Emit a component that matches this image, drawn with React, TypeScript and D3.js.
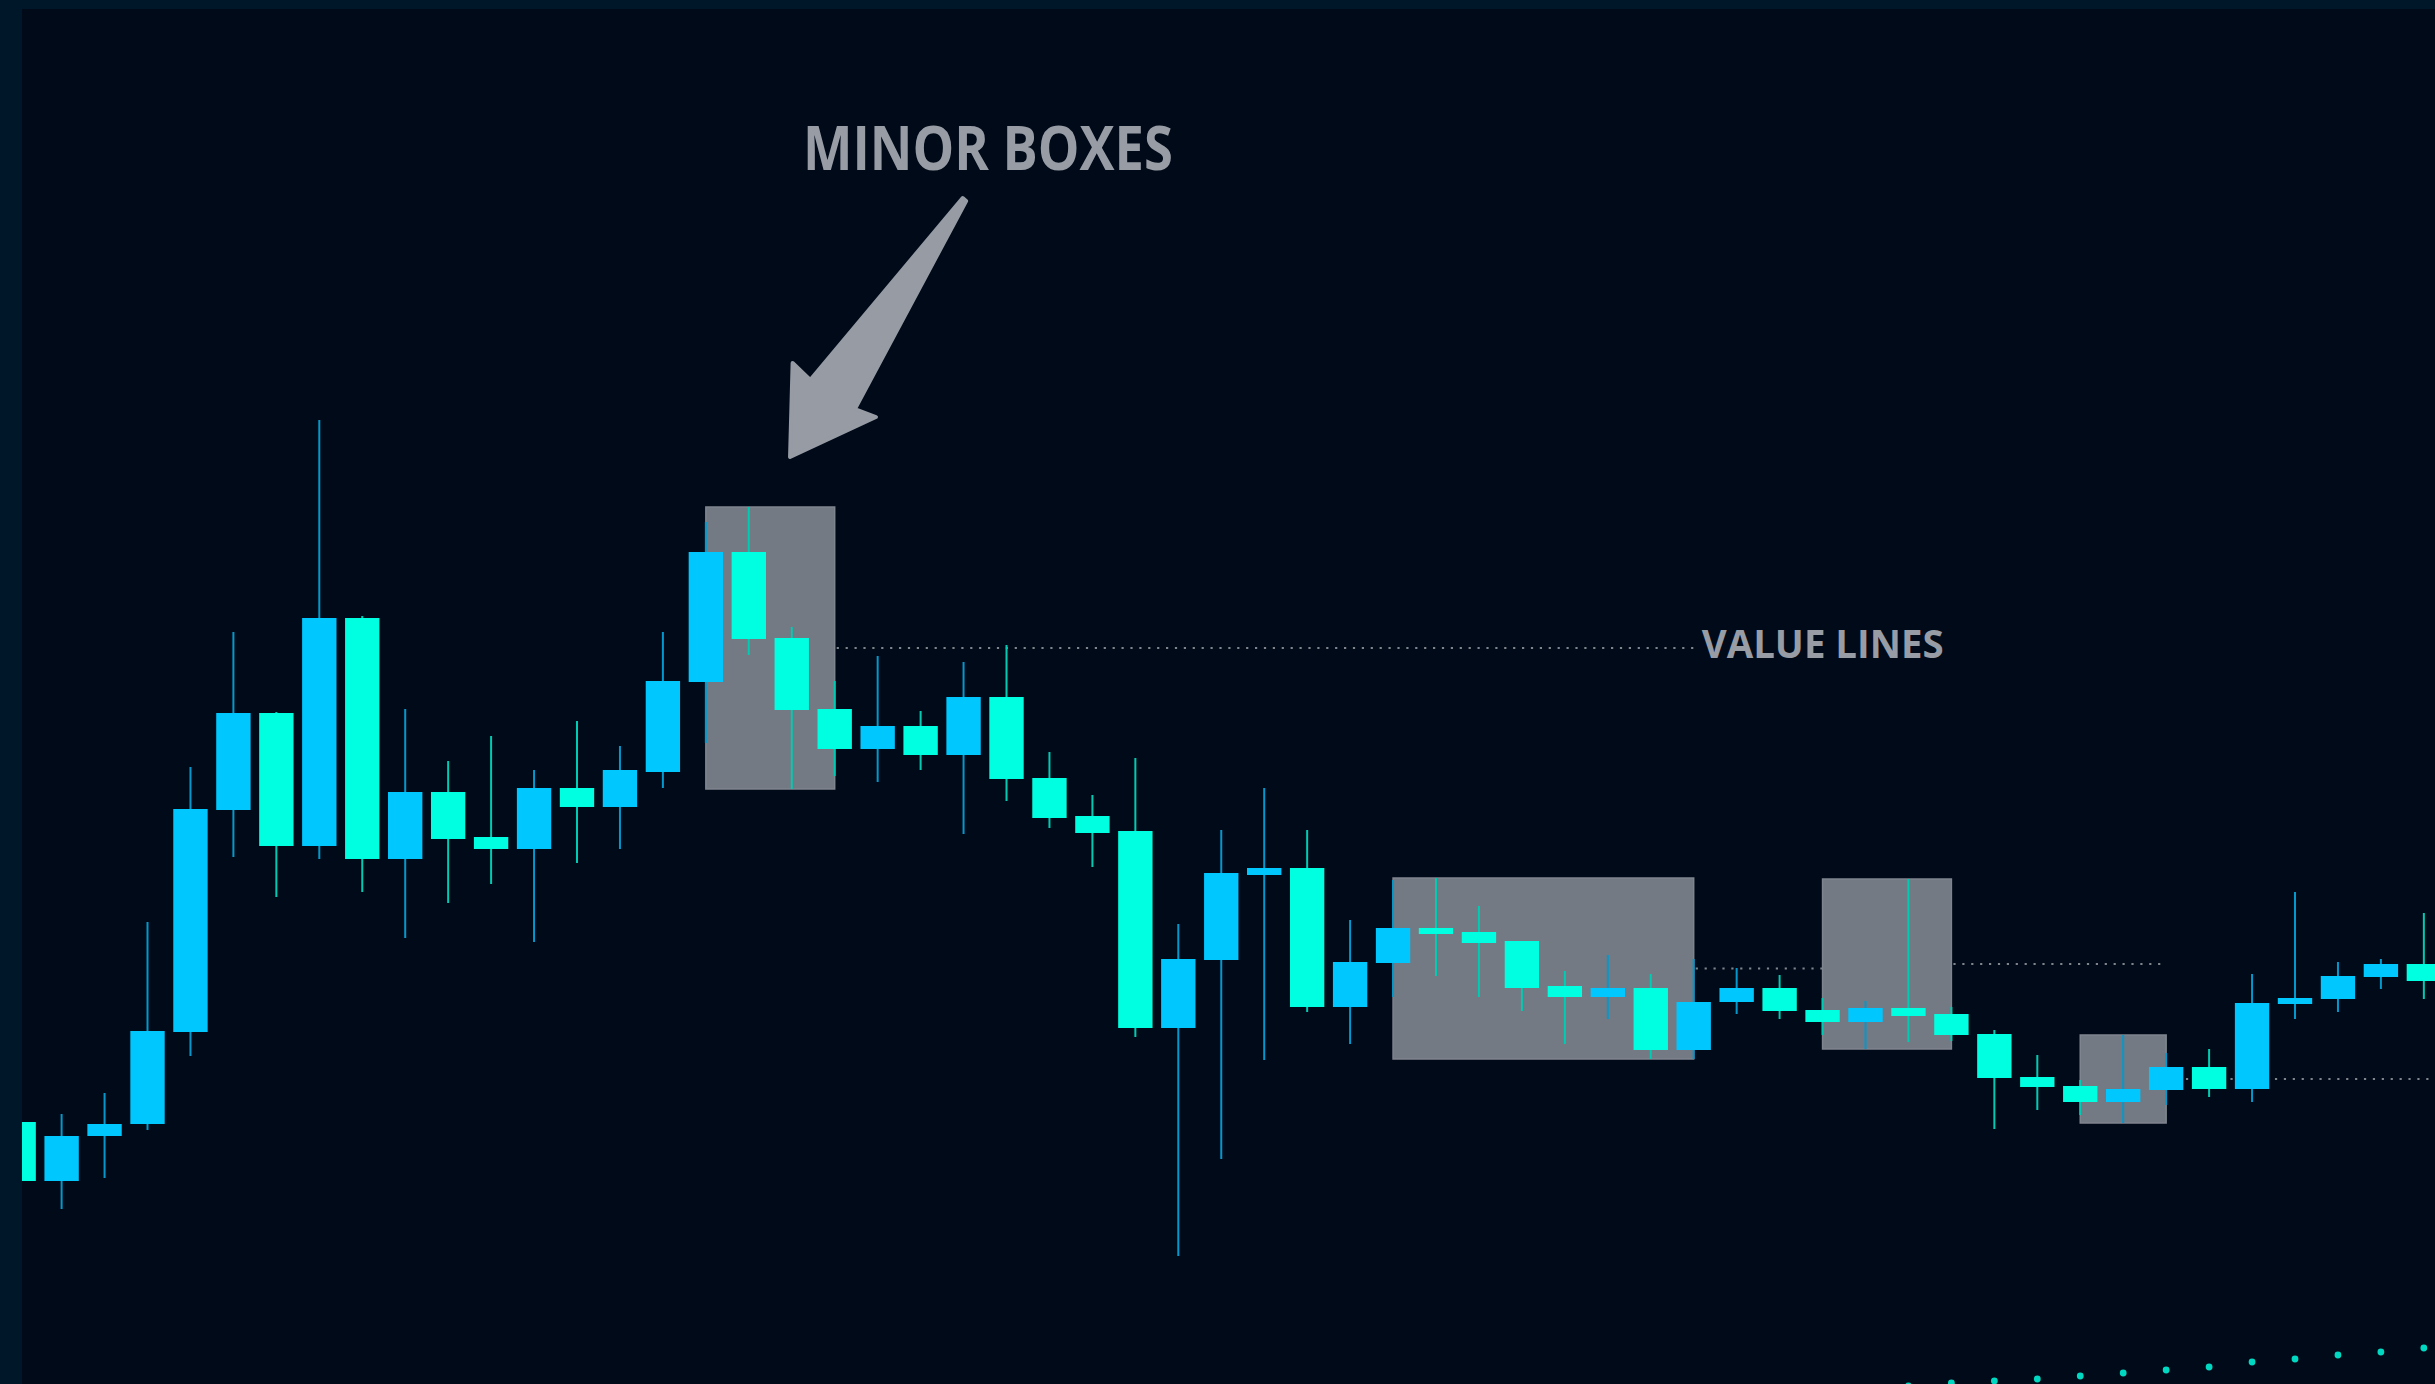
import React from "react";
import * as d3 from "d3";

const W = 2435;
const H = 1384;

// ---- data (price units) ----
const candles = d3.range(57);
const open = [26.2, 20.3, 24.8, 26.0, 35.2, 57.4, 67.1, 53.8, 76.6, 52.5, 59.2, 54.7, 53.5, 59.6, 57.7, 61.2, 70.2, 83.2, 74.6, 67.5, 63.5, 65.8, 62.9, 68.7, 60.6, 56.8, 55.3, 35.6, 42.4, 50.9, 51.6, 37.7, 42.1, 45.6, 45.2, 44.3, 39.8, 38.7, 39.6, 33.4, 38.2, 39.6, 37.4, 36.2, 37.6, 37.0, 35.0, 30.7, 29.8, 28.2, 29.4, 31.7, 29.5, 38.0, 38.5, 40.7, 42.0];
const close = [20.3, 24.8, 26.0, 35.3, 57.5, 67.1, 53.8, 76.6, 52.5, 59.2, 54.5, 53.5, 59.6, 57.7, 61.4, 70.3, 83.2, 74.5, 67.4, 63.5, 65.8, 62.9, 68.7, 60.5, 56.6, 55.1, 35.6, 42.5, 51.1, 51.6, 37.7, 42.2, 45.6, 45.0, 44.1, 39.6, 38.7, 39.6, 33.4, 38.2, 39.6, 37.3, 36.2, 37.6, 36.8, 34.9, 30.6, 29.7, 28.2, 29.5, 31.7, 29.5, 38.1, 38.6, 40.8, 42.0, 40.3];
const high = [26.2, 27.0, 29.1, 46.2, 61.7, 75.2, 67.2, 96.4, 76.8, 67.5, 62.3, 64.8, 61.4, 66.3, 63.8, 75.2, 86.2, 87.7, 75.7, 70.3, 72.8, 67.3, 72.2, 73.9, 63.2, 58.9, 62.6, 46.0, 55.4, 59.6, 55.4, 46.4, 50.4, 50.6, 47.8, 44.3, 41.3, 42.9, 41.0, 42.5, 41.6, 40.9, 38.6, 38.3, 50.5, 37.7, 35.4, 32.9, 30.4, 34.9, 33.1, 33.5, 41.0, 49.2, 42.2, 42.5, 47.1];
const low = [20.3, 17.5, 20.6, 25.4, 32.8, 52.7, 48.7, 52.5, 49.2, 44.6, 48.1, 50.0, 44.2, 52.1, 53.5, 59.6, 64.1, 72.9, 59.5, 60.8, 60.2, 61.4, 55.0, 58.3, 55.6, 51.7, 34.7, 12.8, 22.5, 32.4, 37.2, 34.0, 38.7, 40.8, 38.7, 37.3, 34.0, 36.5, 32.5, 32.5, 37.0, 36.5, 34.9, 33.5, 34.2, 34.3, 25.5, 27.4, 26.9, 26.1, 27.9, 28.7, 28.2, 36.5, 37.2, 39.5, 38.5];

// minor boxes: [first candle, last candle]
const boxStart = [16, 32, 42, 48];
const boxEnd = [19, 39, 45, 50];
// value line (box midpoint) runs from box end to this candle
const valueLineEnd = [39, 42, 50, 57];

// trailing indicator dots
const trailStart = 44;
const trailValues = [-0.2, 0.1, 0.3, 0.5, 0.8, 1.1, 1.4, 1.7, 2.2, 2.5, 2.9, 3.2, 3.6];

// annotation arrow in (candle index, price) units
const arrowIdx = [21.98, 22.06, 19.47, 19.96, 17.96, 18.02, 18.43];
const arrowPrice = [118.6, 118.3, 97.5, 96.7, 92.7, 102.1, 100.4];
const titleIdx = 18.26;
const titlePrice = 121.4;

const UP = "#00c8ff";
const DOWN = "#00ffe0";
const UP_WICK = "#0399cc";
const DOWN_WICK = "#00cbb3";
const GRAY_TEXT = "#979ca5";

export default function App() {
  const x = d3.scaleLinear().domain([0, 56]).range([18.65, 2423.85]);
  const y = d3.scaleLinear().domain([0, 138.4]).range([H, 0]);
  const step = x(1) - x(0);
  const bw = step * 0.8;

  const boxes = boxStart.map((s, i) => {
    const e = boxEnd[i];
    const hi = d3.max(high.slice(s, e + 1)) as number;
    const lo = d3.min(low.slice(s, e + 1)) as number;
    return { s, e, hi, lo, mid: (hi + lo) / 2, lineEnd: valueLineEnd[i] };
  });

  const arrowPts = arrowIdx.map((a, i) => [x(a), y(arrowPrice[i])] as [number, number]);
  const arrowPath = d3.line()(arrowPts) + "Z";

  const font = "'Open Sans', 'Noto Sans', 'DejaVu Sans Condensed', sans-serif";

  return (
    <svg
      width={W}
      height={H}
      style={{ position: "absolute", left: 0, top: 0, display: "block" }}
    >
      <defs>
        <clipPath id="plot">
          <rect x={22} y={9} width={W - 22} height={H - 9} />
        </clipPath>
      </defs>
      <rect x={0} y={0} width={W} height={H} fill="#000a18" />
      <g clipPath="url(#plot)">
        {boxes.map((b, i) => (
          <rect
            key={"box" + i}
            x={x(b.s)}
            y={y(b.hi)}
            width={x(b.e) - x(b.s)}
            height={y(b.lo) - y(b.hi)}
            fill="#737a84"
            stroke="#7f858e"
            strokeWidth={1.5}
          />
        ))}
        {boxes.map((b, i) => (
          <line
            key={"vl" + i}
            x1={x(b.e) + 2}
            x2={x(b.lineEnd)}
            y1={y(b.mid)}
            y2={y(b.mid)}
            stroke="#80858d"
            strokeWidth={2.2}
            strokeDasharray="2.2 6.7"
          />
        ))}
        {candles.map((i) => {
          const up = close[i] >= open[i];
          const cx = x(i);
          const top = y(Math.max(open[i], close[i]));
          const bot = y(Math.min(open[i], close[i]));
          return (
            <g key={"c" + i}>
              <line
                x1={cx}
                x2={cx}
                y1={y(high[i])}
                y2={y(low[i])}
                stroke={up ? UP_WICK : DOWN_WICK}
                strokeWidth={2}
              />
              <rect
                x={cx - bw / 2}
                y={top}
                width={bw}
                height={Math.max(bot - top, 2)}
                fill={up ? UP : DOWN}
              />
            </g>
          );
        })}
        {trailValues.map((v, k) => (
          <circle key={"d" + k} cx={x(trailStart + k)} cy={y(v)} r={3.4} fill="#00d8c2" />
        ))}
      </g>
      <path
        d={arrowPath}
        fill="#969ba4"
        stroke="#969ba4"
        strokeWidth={4}
        strokeLinejoin="round"
      />
      <text
        x={x(titleIdx)}
        y={y(titlePrice)}
        fill={GRAY_TEXT}
        fontFamily={font}
        fontWeight={700}
        fontSize={60}
        textLength={370}
        lengthAdjust="spacingAndGlyphs"
      >
        MINOR BOXES
      </text>
      <text
        x={x(boxes[0].lineEnd) + 8}
        y={y(boxes[0].mid) + 10}
        fill={GRAY_TEXT}
        fontFamily={font}
        fontWeight={700}
        fontSize={40}
        textLength={242}
        lengthAdjust="spacingAndGlyphs"
      >
        VALUE LINES
      </text>
      <rect x={0} y={0} width={22} height={H} fill="#001629" />
      <rect x={0} y={0} width={W} height={9} fill="#001629" />
    </svg>
  );
}
